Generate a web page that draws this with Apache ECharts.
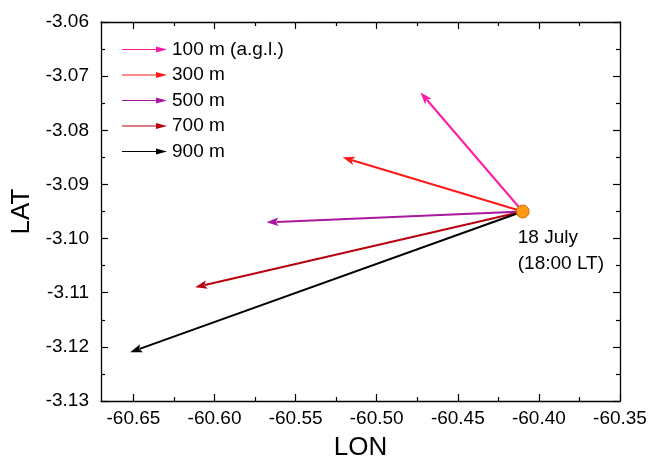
<!DOCTYPE html>
<html>
<head>
<meta charset="utf-8">
<script src="https://cdn.jsdelivr.net/npm/echarts@6/dist/echarts.min.js"></script>
<style>html,body{margin:0;padding:0;background:#fff}#c{width:650px;height:466px}</style>
</head>
<body>
<div id="c"></div>
<script>
// ---- data ----
const seriesNames = ['100 m (a.g.l.)', '300 m', '500 m', '700 m', '900 m'];
const seriesColors = ['#ff1aa3', '#ff1a1a', '#a8189e', '#b8000f', '#000000'];
const origin = [-60.410, -3.095];            // LON, LAT of start point
const tipLon = [-60.473, -60.521, -60.568, -60.612, -60.652];
const tipLat = [-3.073, -3.085, -3.097, -3.109, -3.121];
const originLabel = '18 July\n(18:00 LT)';
const xTickValues = [-60.65, -60.60, -60.55, -60.50, -60.45, -60.40, -60.35];
const xMinorValues = [-60.625, -60.575, -60.525, -60.475, -60.425, -60.375];
const xRange = [-60.67, -60.35];
const yRange = [-3.13, -3.06];
const yInterval = 0.01;

const FONT = "'Liberation Sans', Arial, sans-serif";
const legendIcon = 'path://M0,4.5 L36,4.5 L36,5.5 L0,5.5 Z M34,2 L45,5 L34,8 Z';
const HEAD_LEN = 12, HEAD_HALF = 4.3;

const lineAx = { show: true, lineStyle: { color: '#000', width: 1.3 } };

function xAx(pos, ticks, len, showLine, showLabel) {
  return {
    type: 'value', position: pos, min: xRange[0], max: xRange[1],
    axisLine: showLine ? lineAx : { show: false },
    axisTick: { show: true, inside: true, length: len, customValues: ticks, lineStyle: { color: '#000', width: 1.2 } },
    axisLabel: showLabel ? { show: true, customValues: ticks, formatter: v => v.toFixed(2), fontSize: 19, color: '#000', fontFamily: FONT, margin: 8 } : { show: false },
    splitLine: { show: false },
    name: showLabel ? 'LON' : '', nameLocation: 'middle', nameGap: 34,
    nameTextStyle: { fontSize: 26, color: '#000', fontFamily: FONT }
  };
}
function yAx(pos, showLabel) {
  return {
    type: 'value', position: pos, min: yRange[0], max: yRange[1], interval: yInterval,
    axisLine: lineAx,
    axisTick: { show: true, inside: true, length: 7, lineStyle: { color: '#000', width: 1.2 } },
    minorTick: { show: true, splitNumber: 2, length: 4, lineStyle: { color: '#000', width: 1.2 } },
    axisLabel: showLabel ? { show: true, formatter: v => v.toFixed(2), fontSize: 19, color: '#000', fontFamily: FONT, margin: 12 } : { show: false },
    splitLine: { show: false }, minorSplitLine: { show: false },
    name: showLabel ? 'LAT' : '', nameLocation: 'middle', nameGap: 58,
    nameTextStyle: { fontSize: 26, color: '#000', fontFamily: FONT }
  };
}

function arrowRender(color) {
  return function (params, api) {
    const p0 = api.coord([api.value(0), api.value(1)]);
    const p1 = api.coord([api.value(2), api.value(3)]);
    const dx = p1[0] - p0[0], dy = p1[1] - p0[1];
    const L = Math.sqrt(dx * dx + dy * dy);
    const ux = dx / L, uy = dy / L;
    const bx = p1[0] - ux * HEAD_LEN, by = p1[1] - uy * HEAD_LEN;
    const nx = -uy, ny = ux;
    return {
      type: 'group',
      children: [
        { type: 'line', shape: { x1: p0[0], y1: p0[1], x2: bx + ux * 2, y2: by + uy * 2 },
          style: { stroke: color, lineWidth: 2 } },
        { type: 'polygon', shape: { points: [[p1[0], p1[1]], [bx + nx * HEAD_HALF, by + ny * HEAD_HALF], [bx + ux * 2.5, by + uy * 2.5], [bx - nx * HEAD_HALF, by - ny * HEAD_HALF]] },
          style: { fill: color } }
      ]
    };
  };
}

const series = seriesNames.map((n, i) => ({
  type: 'custom', name: n, coordinateSystem: 'cartesian2d', xAxisIndex: 0, yAxisIndex: 0,
  renderItem: arrowRender(seriesColors[i]),
  itemStyle: { color: seriesColors[i] },
  encode: { x: [0, 2], y: [1, 3] },
  data: [[origin[0], origin[1], tipLon[i], tipLat[i]]],
  clip: false,
  z: 2 + i
}));
series.push({
  type: 'scatter', name: 'origin', xAxisIndex: 0, yAxisIndex: 0,
  symbolSize: 13, data: [origin],
  itemStyle: { color: '#ff9a10', borderColor: '#b86000', borderWidth: 0.8, opacity: 1 },
  label: { show: true, formatter: originLabel, position: [2, 20], align: 'left', verticalAlign: 'top',
    fontSize: 19, lineHeight: 26, color: '#000', fontFamily: FONT },
  z: 10
});

const chart = echarts.init(document.getElementById('c'), null, { renderer: 'canvas' });
chart.setOption({
  animation: false,
  backgroundColor: '#fff',
  grid: { left: 101, right: 30, top: 22, bottom: 63, containLabel: false },
  xAxis: [xAx('bottom', xTickValues, 7, true, true), xAx('top', xTickValues, 7, true, false),
          xAx('bottom', xMinorValues, 4, false, false), xAx('top', xMinorValues, 4, false, false)],
  yAxis: [yAx('left', true), yAx('right', false)],
  legend: {
    orient: 'vertical', left: 122, top: 40, padding: 0, selectedMode: false,
    itemWidth: 45, itemHeight: 6, itemGap: 6.5,
    textStyle: { fontSize: 19, lineHeight: 19, color: '#000', fontFamily: FONT },
    data: seriesNames.map((n, i) => ({ name: n, icon: legendIcon, itemStyle: { color: seriesColors[i], borderWidth: 0 } }))
  },
  series: series
});
</script>
</body>
</html>
